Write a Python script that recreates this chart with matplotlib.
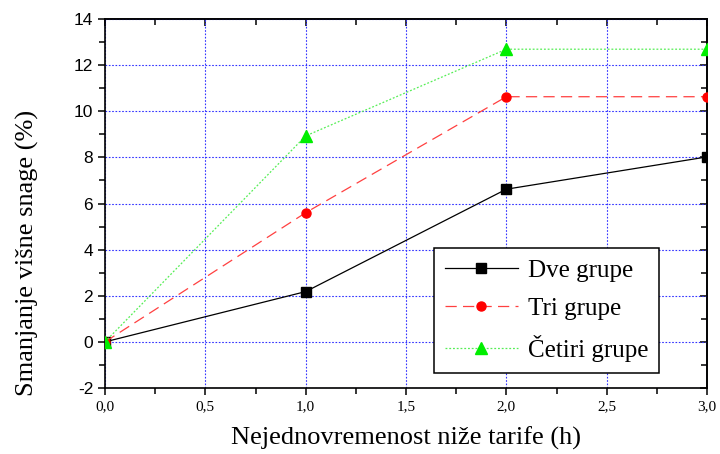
import matplotlib
matplotlib.use("Agg")
import matplotlib.pyplot as plt
from matplotlib.ticker import MultipleLocator, FuncFormatter

x = [0.0, 1.0, 2.0, 3.0]
dve = [0.0, 2.18, 6.62, 8.02]
tri = [0.0, 5.6, 10.63, 10.63]
cetiri = [0.0, 8.93, 12.69, 12.69]
labels = ["Dve grupe", "Tri grupe", "Četiri grupe"]
xlabel = "Nejednovremenost niže tarife (h)"
ylabel = "Smanjanje višne snage (%)"

fig = plt.figure(figsize=(7.2, 4.54), dpi=100)
ax = fig.add_axes([105/720, 1-388/454, 602/720, 369/454])

ax.plot(x, dve, color="black", lw=0.9, ls="-", marker="s", ms=6.5, label=labels[0], zorder=3)
ax.plot(x, tri, color="#ff4040", lw=0.9, ls=(0, (9, 5)), marker="o", ms=6.5,
        markerfacecolor="red", markeredgecolor="red", label=labels[1], zorder=3)
ax.plot(x, cetiri, color="#55ee55", lw=0.9, ls=(0, (1.5, 1.5)), marker="^", ms=9,
        markerfacecolor="#00ee00", markeredgecolor="#00ee00", label=labels[2], zorder=3)

ax.set_xlim(0, 3)
ax.set_ylim(-2, 14)
ax.xaxis.set_major_locator(MultipleLocator(0.5))
ax.xaxis.set_minor_locator(MultipleLocator(0.25))
ax.yaxis.set_major_locator(MultipleLocator(2))
ax.yaxis.set_minor_locator(MultipleLocator(1))
ax.xaxis.set_major_formatter(FuncFormatter(lambda v, p: f"{v:.1f}".replace(".", ",")))
ax.yaxis.set_major_formatter(FuncFormatter(lambda v, p: f"{int(round(v))}"))

ax.grid(True, which="major", color="#3333ff", ls=(0, (1.5, 1.5)), lw=0.8)

for s in ax.spines.values():
    s.set_linewidth(1.2)

ax.tick_params(which="both", direction="out", width=1.1, top=False, right=False)
ax.tick_params(which="major", length=5)
ax.tick_params(which="minor", length=4)
for lab in ax.get_xticklabels():
    lab.set_fontfamily("Liberation Serif")
    lab.set_fontsize(11)
for lab in ax.get_yticklabels():
    lab.set_fontfamily("Liberation Sans")
    lab.set_fontsize(12.5)

# inward ticks on top and right
secx = ax.secondary_xaxis("top")
secx.xaxis.set_major_locator(MultipleLocator(0.5))
secx.xaxis.set_minor_locator(MultipleLocator(0.25))
secx.tick_params(which="both", direction="in", width=1.1, labeltop=False)
secx.tick_params(which="major", length=5)
secx.tick_params(which="minor", length=4)
secy = ax.secondary_yaxis("right")
secy.yaxis.set_major_locator(MultipleLocator(2))
secy.yaxis.set_minor_locator(MultipleLocator(1))
secy.tick_params(which="both", direction="in", width=1.1, labelright=False)
secy.tick_params(which="major", length=5)
secy.tick_params(which="minor", length=4)
for sp in list(secx.spines.values()) + list(secy.spines.values()):
    sp.set_linewidth(1.2)

ax.set_xlabel(xlabel, fontfamily="Liberation Serif", fontsize=19, labelpad=10)
ax.set_ylabel(ylabel, fontfamily="Liberation Serif", fontsize=19)
ax.yaxis.set_label_coords(-0.11, 0.366)

leg = ax.legend(loc="lower left", bbox_to_anchor=(0.5465, 0.0407), borderaxespad=0,
                prop={"family": "Liberation Serif", "size": 18}, fancybox=False,
                framealpha=1, edgecolor="black", handlelength=2.9, numpoints=1,
                labelspacing=0.6, borderpad=0.45, handletextpad=0.4)
leg.get_frame().set_linewidth(1.1)

fig.savefig("out.png", dpi=100)
